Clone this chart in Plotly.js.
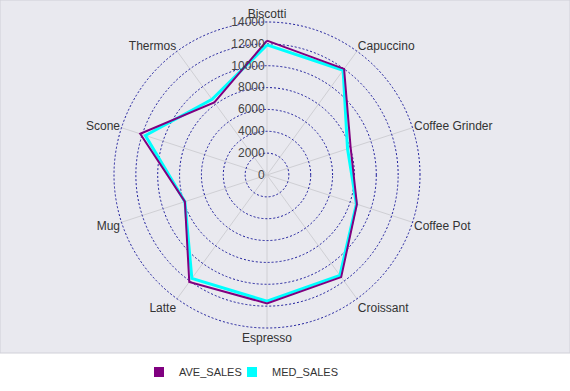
<!DOCTYPE html>
<html>
<head>
<meta charset="utf-8">
<script src="https://cdn.plot.ly/plotly-3.0.1.min.js"></script>
<style>html,body{margin:0;padding:0;background:#fff;}#chart{width:570px;height:391px;}</style>
</head>
<body>
<div id="chart"></div>
<script>
const categories = ["Biscotti", "Capuccino", "Coffee Grinder", "Coffee Pot", "Croissant", "Espresso", "Latte", "Mug", "Scone", "Thermos"];
const aveSales = [12300, 12000, 8050, 8650, 11550, 11750, 12100, 7900, 12200, 8200];
const medSales = [11900, 11850, 7750, 8600, 11350, 11550, 11700, 7900, 11700, 8550];
const radialTicks = [0, 2000, 4000, 6000, 8000, 10000, 12000, 14000];
const seriesNames = ["AVE_SALES", "MED_SALES"];
const seriesColors = ["#800080", "#00ffff"];

function closed(arr) { return arr.concat([arr[0]]); }

// layout geometry: centre (267,175), 14000 drawn at 153 px
const W = 570, H = 391, CX = 267, CY = 175, R14 = 153, RMAX = 14100;
const RPX = R14 * RMAX / 14000;

const traces = [
  {type: "scatterpolar", mode: "lines", r: closed(medSales), theta: closed(categories),
   line: {color: seriesColors[1], width: 3}, showlegend: false, hoverinfo: "skip"},
  {type: "scatterpolar", mode: "lines", r: closed(aveSales), theta: closed(categories),
   line: {color: seriesColors[0], width: 2}, showlegend: false, hoverinfo: "skip"},
  {type: "scatterpolar", mode: "markers", r: [null], theta: [null], name: seriesNames[0], legend: "legend",
   marker: {symbol: "square", size: 10, color: seriesColors[0]}},
  {type: "scatterpolar", mode: "markers", r: [null], theta: [null], name: seriesNames[1], legend: "legend2",
   marker: {symbol: "square", size: 10, color: seriesColors[1]}}
];

const legendBase = {orientation: "h", xanchor: "left", y: 1 - 372/H, yanchor: "middle",
  font: {family: "Liberation Sans, Arial, sans-serif", size: 11, color: "#333333"},
  bgcolor: "rgba(0,0,0,0)"};

const layout = {
  width: W, height: H,
  margin: {l: 0, r: 0, t: 0, b: 0},
  paper_bgcolor: "#ffffff",
  font: {family: "Liberation Sans, Arial, sans-serif", size: 12, color: "#333333"},
  shapes: [{type: "rect", xref: "paper", yref: "paper", x0: 0, x1: 1, y0: 1 - 353/H, y1: 1,
    fillcolor: "#e9e9ef", line: {color: "#d0d0d8", width: 1}, layer: "below"}],
  polar: {
    domain: {x: [(CX - RPX)/W, (CX + RPX)/W], y: [1 - (CY + RPX)/H, 1 - (CY - RPX)/H]},
    bgcolor: "rgba(0,0,0,0)",
    radialaxis: {
      range: [0, RMAX], tickvals: radialTicks, ticktext: radialTicks.map(String),
      angle: 90, tickangle: 90, side: "counterclockwise",
      showline: false, ticks: "", gridcolor: "#1a1a9a", griddash: "2px,2px", gridwidth: 1,
      tickfont: {size: 12, color: "#444444"}
    },
    angularaxis: {
      rotation: 90, direction: "clockwise", categoryarray: categories, categoryorder: "array",
      showline: false,
      gridcolor: "#cfcfd4", gridwidth: 1, ticks: "",
      tickfont: {size: 12, color: "#333333"}
    }
  },
  showlegend: true,
  legend: Object.assign({}, legendBase, {x: 139/W}),
  legend2: Object.assign({}, legendBase, {x: 232/W})
};

Plotly.newPlot("chart", traces, layout, {displayModeBar: false, staticPlot: true});
</script>
</body>
</html>
